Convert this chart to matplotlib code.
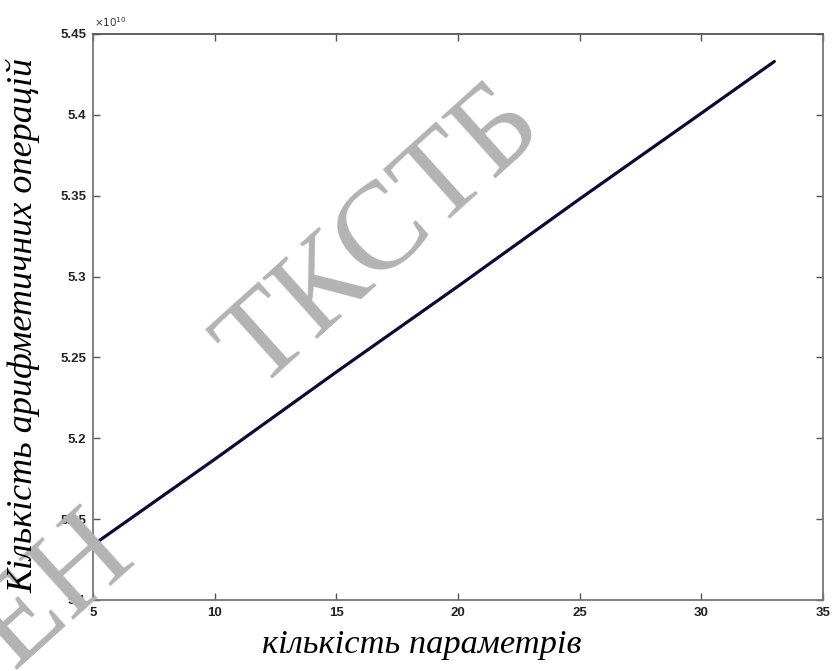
import numpy as np
import matplotlib.pyplot as plt
from matplotlib.ticker import FuncFormatter

# кількість параметрів / кількість операцій (читано з графіка)
n_params = [5, 10, 15, 20, 25, 30, 33]
n_ops = [5.134e10, 5.187e10, 5.241e10, 5.294e10, 5.348e10, 5.401e10, 5.433e10]

x_ticks = [5, 10, 15, 20, 25, 30, 35]
y_ticks = [5.1e10, 5.15e10, 5.2e10, 5.25e10, 5.3e10, 5.35e10, 5.4e10, 5.45e10]

fig = plt.figure(figsize=(8.33, 6.71), dpi=100)
ax = fig.add_axes([93 / 833, 71 / 671, 730 / 833, 566 / 671])

ax.plot(n_params, n_ops, color='#0b0b35', lw=2.3, solid_capstyle='round')

ax.set_xlim(5, 35)
ax.set_ylim(5.1e10, 5.45e10)
ax.set_xticks(x_ticks)
ax.set_yticks(y_ticks)
ax.yaxis.set_major_formatter(FuncFormatter(lambda v, p: f'{v / 1e10:g}'))

ax.tick_params(direction='in', length=5, width=1, color='#555555',
               top=True, right=True, labelsize=9.5, labelcolor='#222222', pad=5)
for lbl in ax.get_xticklabels() + ax.get_yticklabels():
    lbl.set_fontweight('bold')
    lbl.set_family('Liberation Sans')
for s in ax.spines.values():
    s.set_color('#777777')
    s.set_linewidth(1.3)
ax.spines['top'].set_color('#555555')

# множник осі y
ax.text(0.002, 1.008, r'$\times10^{10}$', transform=ax.transAxes,
        fontsize=7.5, color='#333333', ha='left', va='bottom')

serif = dict(family='Liberation Serif', style='italic', color='black')
fig.text(422 / 833, 1 - 645 / 671, 'кількість параметрів', ha='center', va='center',
         fontsize=24.8, **serif)
fig.text(23 / 833, 1 - 325 / 671, 'Кількість арифметичних операцій', rotation=90,
         ha='center', va='center', fontsize=26, **serif)

# водяний знак
wm = dict(family='Liberation Serif', fontsize=90, color='#b3b3b3', rotation=42,
          rotation_mode='anchor', ha='center', va='center', zorder=0)
fig.text(382 / 833, 1 - 238 / 671, 'ТКСТБ', **wm)
fig.text(55 / 833, 1 - 592 / 671, 'ЕН', **wm)

fig.savefig('out.png', dpi=100)
